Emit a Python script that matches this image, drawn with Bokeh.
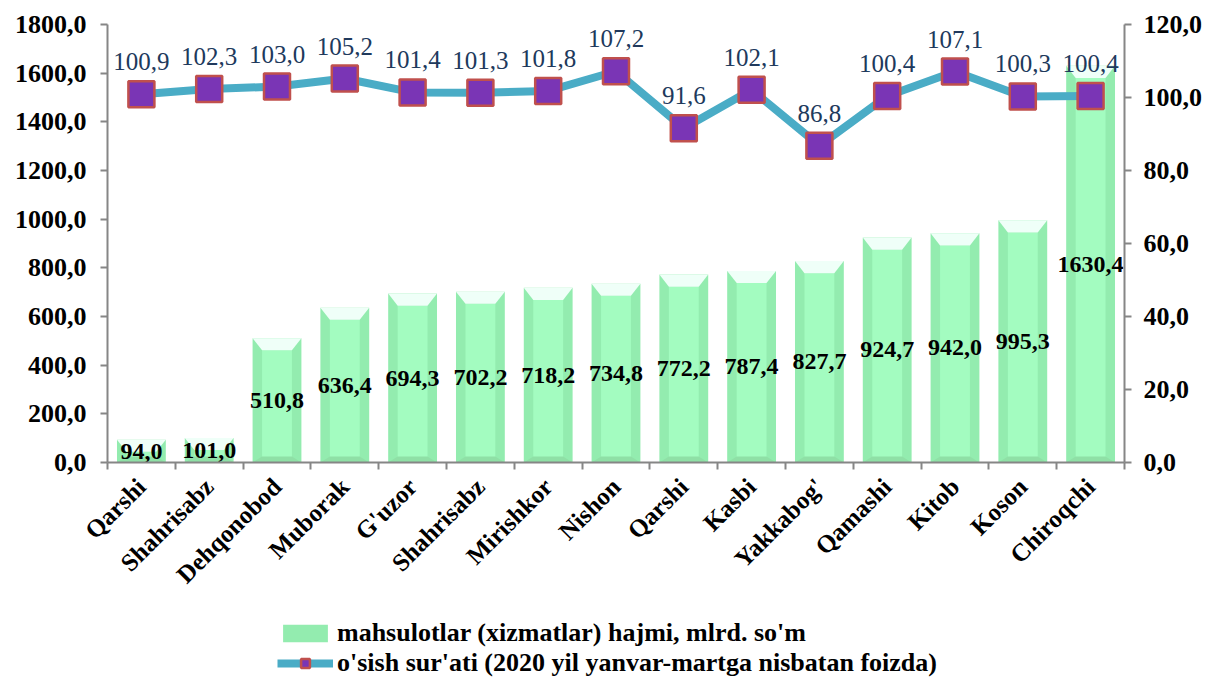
import math
from bokeh.plotting import figure
from bokeh.layouts import column
from bokeh.models import (Range1d, LinearAxis, FixedTicker, CustomJSTickFormatter,
                          ColumnDataSource, Legend, LegendItem)
from bokeh.core.properties import value
from bokeh.embed import file_html
from bokeh.resources import INLINE

categories = ["Qarshi", "Shahrisabz", "Dehqonobod", "Muborak", "G'uzor", "Shahrisabz",
              "Mirishkor", "Nishon", "Qarshi", "Kasbi", "Yakkabog'", "Qamashi",
              "Kitob", "Koson", "Chiroqchi"]
volume = [94.0, 101.0, 510.8, 636.4, 694.3, 702.2, 718.2, 734.8, 772.2, 787.4,
          827.7, 924.7, 942.0, 995.3, 1630.4]
growth = [100.9, 102.3, 103.0, 105.2, 101.4, 101.3, 101.8, 107.2, 91.6, 102.1,
          86.8, 100.4, 107.1, 100.3, 100.4]
left_ticks = [0, 200, 400, 600, 800, 1000, 1200, 1400, 1600, 1800]
right_ticks = [0, 20, 40, 60, 80, 100, 120]
bar_name = "mahsulotlar (xizmatlar) hajmi, mlrd. so'm"
line_name = "o'sish sur'ati (2020 yil yanvar-martga nisbatan foizda)"

FONT = "Liberation Serif"
fmt = lambda v: ("%.1f" % v).replace(".", ",")

xs = list(range(1, len(categories) + 1))
W = 0.72      # outer bar width
WI = 0.44     # inner face width
BEV = 50.0    # bevel depth in data units

BAR_SIDE, BAR_FACE, BAR_TOP, BAR_BOT = "#93ecaf", "#a3fcc0", "#effff8", "#8fe0a6"
LINE_C, MK_FILL, MK_LINE = "#4aacc6", "#7a35b5", "#c0504d"

src = ColumnDataSource(dict(
    x=xs, top=volume, half=[v / 2 for v in volume], vlab=[fmt(v) for v in volume],
    g=growth, glab=[fmt(v) for v in growth],
    inner_top=[max(v - BEV, 20) for v in volume],
))

top_x, top_y, bot_x, bot_y = [], [], [], []
for x, v in zip(xs, volume):
    b = min(BEV, v * 0.6)
    top_x.append([x - W / 2, x + W / 2, x + WI / 2, x - WI / 2])
    top_y.append([v, v, v - b, v - b])
    bb = min(BEV * 0.5, v * 0.3)
    bot_x.append([x - W / 2, x + W / 2, x + WI / 2, x - WI / 2])
    bot_y.append([0, 0, bb, bb])

p = figure(width=1205, height=616, output_backend="svg", toolbar_location=None,
           x_range=Range1d(0.5, 15.5), y_range=Range1d(0, 1800),
           min_border_left=107, min_border_right=78, min_border_top=24,
           min_border_bottom=154, x_axis_location=None, y_axis_location=None)
p.outline_line_color = None
p.grid.visible = False
p.background_fill_color = "white"
p.border_fill_color = "white"
p.extra_y_ranges = {"r": Range1d(0, 120)}

# bars with bevel look
p.vbar(x="x", top="top", width=W, bottom=0, source=src,
       fill_color=BAR_SIDE, line_color=None)
p.vbar(x="x", top="inner_top", bottom=0, width=WI, source=src,
       fill_color=BAR_FACE, line_color=None)
p.patches(bot_x, bot_y, fill_color=BAR_BOT, line_color=None)
p.patches(top_x, top_y, fill_color=BAR_TOP, line_color=None)

p.text(x="x", y="half", text="vlab", source=src, text_align="center",
       text_baseline="middle", text_font=value(FONT), text_font_style="bold",
       text_font_size="24px", text_color="black")

# growth line
p.line(x="x", y="g", source=src, y_range_name="r", line_color=LINE_C, line_width=8)
p.scatter(x="x", y="g", source=src, y_range_name="r", marker="square", size=26,
          fill_color=MK_FILL, line_color=MK_LINE, line_width=2.5)
p.text(x="x", y="g", text="glab", source=src, y_range_name="r", text_align="center",
       text_baseline="bottom", y_offset=-24, text_font=value(FONT),
       text_font_size="25px", text_color="#20395c")

formatter = CustomJSTickFormatter(code="return tick.toFixed(1).replace('.', ',')")

def style_axis(ax):
    ax.axis_line_color = "#868686"
    ax.axis_line_width = 2
    ax.major_tick_line_color = "#868686"
    ax.major_tick_line_width = 2
    ax.major_tick_out = 7
    ax.major_tick_in = 0
    ax.minor_tick_line_color = None
    ax.major_label_text_font = FONT
    ax.major_label_text_font_style = "bold"
    ax.major_label_text_font_size = "26px"
    ax.major_label_text_color = "black"

yl = LinearAxis(ticker=FixedTicker(ticks=left_ticks), formatter=formatter)
style_axis(yl)
yl.major_label_standoff = 14
p.add_layout(yl, "left")

yr = LinearAxis(y_range_name="r", ticker=FixedTicker(ticks=right_ticks), formatter=formatter)
style_axis(yr)
yr.major_label_standoff = 12
p.add_layout(yr, "right")

xa = LinearAxis(ticker=FixedTicker(ticks=xs, minor_ticks=[x + 0.5 for x in [0] + xs]))
style_axis(xa)
xa.major_tick_out = 0
xa.minor_tick_line_color = "#868686"
xa.minor_tick_line_width = 2
xa.minor_tick_out = 7
xa.minor_tick_in = 0
xa.major_label_orientation = math.pi / 4
xa.major_label_text_font_size = "25px"
xa.major_label_standoff = 13
xa.major_label_overrides = {x: c for x, c in zip(xs, categories)}
p.add_layout(xa, "below")

# legend strip below the chart (its sample glyphs sit outside the visible range)
lg = figure(width=1205, height=63, output_backend="svg", toolbar_location=None,
            x_range=Range1d(0, 1), y_range=Range1d(0, 1), min_border=0,
            x_axis_location=None, y_axis_location=None)
lg.outline_line_color = None
lg.grid.visible = False
dummy = ColumnDataSource(dict(x=[-5, -4], y=[-5, -5]))
lbar = lg.vbar(x="x", top="y", width=0.1, source=dummy, fill_color=BAR_SIDE, line_color=None)
lline = lg.line(x="x", y="y", source=dummy, line_color=LINE_C, line_width=8)
lmk = lg.scatter(x="x", y="y", source=dummy, marker="square", size=22,
                 fill_color=MK_FILL, line_color=MK_LINE, line_width=2.5)
legend = Legend(items=[LegendItem(label=bar_name, renderers=[lbar]),
                       LegendItem(label=line_name, renderers=[lline, lmk])],
                location=(170, 1), orientation="vertical",
                label_text_font=FONT, label_text_font_style="bold",
                label_text_font_size="26px", label_text_color="black",
                glyph_width=56, glyph_height=22, label_height=30,
                spacing=0, padding=0, margin=0, label_standoff=4,
                border_line_color=None, background_fill_alpha=0)
lg.add_layout(legend, "center")

open("out.html", "w").write(file_html(column(p, lg, spacing=0), INLINE))
